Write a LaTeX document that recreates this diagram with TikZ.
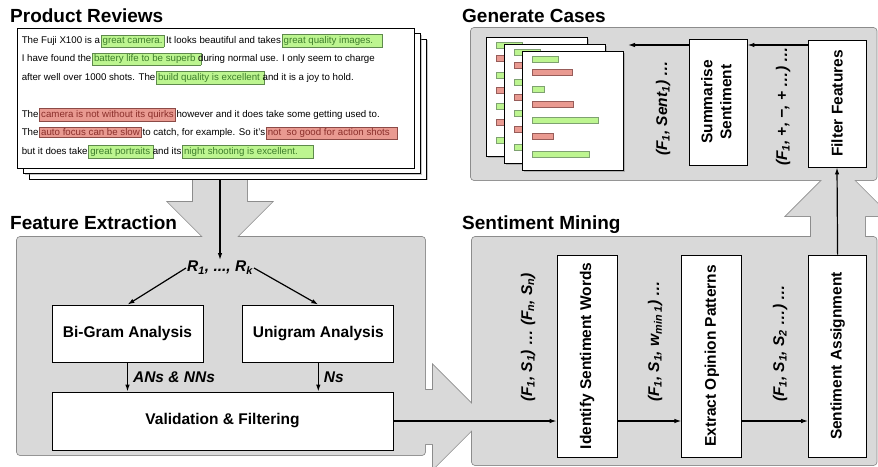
\documentclass[tikz,border=0pt]{standalone}
\usepackage{fontspec}
\setmainfont{Liberation Sans}
\usepackage{xcolor}
\usepackage{tikz}
\usetikzlibrary{positioning}
\usetikzlibrary{calc,arrows.meta,shadows}
\definecolor{panel}{HTML}{D9D9D9}
\definecolor{panelline}{HTML}{8C8C8C}
\definecolor{goodfill}{HTML}{BDF590}
\definecolor{goodline}{HTML}{5E8A4C}
\definecolor{goodtext}{HTML}{3E7E2C}
\definecolor{badfill}{HTML}{E99A91}
\definecolor{badline}{HTML}{8C4A46}
\definecolor{badtext}{HTML}{8A2E2A}
\setlength{\fboxsep}{1.3pt}
\setlength{\fboxrule}{0.6pt}
% highlighted phrase: box behind the words, text does not move
\newcommand{\good}[2][0pt]{\makebox[0pt][l]{\hspace{-1.9pt}\fcolorbox{goodline}{goodfill}{\phantom{#2}\hspace{#1}}}\textcolor{goodtext}{#2}}
\newcommand{\bad}[2][0pt]{\makebox[0pt][l]{\hspace{-1.9pt}\fcolorbox{badline}{badfill}{\phantom{#2}\hspace{#1}}}\textcolor{badtext}{#2}}
\tikzset{
  stagetitle/.style = {font=\fontsize{19}{22}\selectfont\bfseries,
    anchor=base west, inner sep=0pt},
  stage/.style = {draw=black, line width=0.8pt, fill=white, align=center,
    inner sep=0pt, font=\fontsize{15.5}{19}\selectfont\bfseries},% white process box
  flowlabel/.style = {font=\fontsize{15.5}{19}\selectfont\bfseries\itshape,
    inner sep=1pt},% data passed between boxes
  flow/.style = {->, line width=1.2pt},
  sheet/.style = {draw=black, line width=0.8pt, fill=white, inner sep=0pt,
    drop shadow={shadow xshift=1.2pt, shadow yshift=-1.2pt, opacity=0.45}},
  casesheet/.style = {sheet, line width=0.6pt, minimum width=101,
    minimum height=119, anchor=north west},
  goodbar/.style = {fill=goodfill, draw=goodline!80, line width=0.6pt},
  badbar/.style = {fill=badfill, draw=badline!90, line width=0.6pt},
  panelback/.style = {draw=panelline, line width=1.6pt, rounded corners=3pt},
  panelfill/.style = {fill=panel, rounded corners=3pt}
}

\begin{document}
\begin{tikzpicture}[x=1pt, y=-1pt, >={Latex[length=7pt,width=4.5pt]}]
\useasboundingbox (0,0) rectangle (878,466);

% grey stage panels with their wide arrows (outline first, then fill)
\foreach \sty in {panelback, panelfill} {
  \path[\sty] (17,237) rectangle (425,455);
  \path[\sty] (472,237) rectangle (876.5,465);
  \path[\sty] (471,28) rectangle (876.5,180);
  \path[\sty, sharp corners] (193,176) -- (247,176) -- (247,202) -- (272,202)
    -- (233,241) -- (207,241) -- (168,202) -- (193,202) -- cycle;
  \path[\sty, sharp corners] (420,390) -- (433,390) -- (433,365) -- (476,408)
    -- (476,426) -- (433,469) -- (433,444) -- (420,444) -- cycle;
  \path[\sty, sharp corners] (811,242) -- (811,216) -- (786,216) -- (827,175)
    -- (849,175) -- (890,216) -- (865,216) -- (865,242) -- cycle;
}

\node[stagetitle] (reviewstitle) at (10,22) {Product Reviews};
\node[stagetitle] (extracttitle) at (10,229) {Feature Extraction};
\node[stagetitle] (miningtitle) at (462,229) {Sentiment Mining};
\node[stagetitle] (casestitle) at (462,22) {Generate Cases};

% stack of reviews
\node[sheet, minimum width=397, minimum height=140] (sheetC) at (228,109) {};
\node[sheet, minimum width=397, minimum height=140] (sheetB) at (222,103.5) {};
\node[sheet, minimum width=397, minimum height=140] (sheetA) at (215.5,98) {};
\node[anchor=north west, align=left, inner sep=0pt,
  font=\fontsize{9.7}{18.5}\selectfont] (reviewtext)
  at ([shift={(5,6.5)}]sheetA.north west) {%
The Fuji X100 is a \good{great camera.} It looks beautiful and takes \good[8pt]{great quality images.}\\
I have found the \good[4pt]{battery life to be superb} during normal use. I only seem to charge\\
after well over 1000 shots. The \good[3pt]{build quality is excellent} and it is a joy to hold.\\[18.5pt]
The \bad{camera is not without its quirks} however and it does take some getting used to.\\
The \bad{auto focus can be slow} to catch, for example. So it's \bad[6pt]{not\ \ so good for action shots}\\
but it does take \good[2pt]{great portraits} and its \good[14pt]{night shooting is excellent.}};

% feature extraction
\node[flowlabel] (rk) at (220,268) {R\textsubscript{1}, ..., R\textsubscript{k}};
\node[stage, minimum width=151, minimum height=57] (bigram) at (127.5,333.5) {Bi-Gram Analysis};
\node[stage, minimum width=151, minimum height=57, right=39 of bigram] (unigram) {Unigram Analysis};
\node[stage, minimum width=341, minimum height=58] (valid) at (222.5,421) {Validation \& Filtering};

\draw[flow] (rk |- sheetC.south) -- (rk.north);
\draw[flow] (rk.west) -- (bigram.north);
\draw[flow] (rk.east) -- (unigram.north);
\draw[flow] (bigram.south) -- (bigram.south |- valid.north)
  node[flowlabel, midway, right=4pt] (anslabel) {ANs \& NNs};
\draw[flow] (unigram.south) -- (unigram.south |- valid.north)
  node[flowlabel, midway, right=4pt] (nslabel) {Ns};

% sentiment mining
\node[stage, minimum width=60, minimum height=202] (ident) at (587,356)
  {\rotatebox{90}{Identify Sentiment Words}};
\node[stage, minimum width=60, minimum height=202, right=64 of ident] (extract)
  {\rotatebox{90}{Extract Opinion Patterns}};
\node[stage, minimum width=58, minimum height=202, right=66 of extract] (sentassign)
  {\rotatebox{90}{Sentiment Assignment}};

\node[flowlabel, anchor=south] (pairs) at (528,403)
  {\rotatebox{90}{(F\textsubscript{1}, S\textsubscript{1}) … (F\textsubscript{n}, S\textsubscript{n})}};
\node[flowlabel, anchor=south] (triples) at (655,403)
  {\rotatebox{90}{(F\textsubscript{1}, S\textsubscript{1}, w\textsubscript{min 1}) …}};
\node[flowlabel, anchor=south] (scores) at (780,403)
  {\rotatebox{90}{(F\textsubscript{1}, S\textsubscript{1}, S\textsubscript{2} …) …}};

\draw[flow] (valid.east) -- (valid.east -| ident.west);
\draw[flow] (ident.east |- valid.east) -- (extract.west |- valid.east);
\draw[flow] (extract.east |- valid.east) -- (sentassign.west |- valid.east);

% generate cases
\foreach \cx/\cy/\nm in {486/37/caseA, 504/44/caseB, 522/51/caseC} {
  \node[casesheet] (\nm) at (\cx,\cy) {};
  \foreach \dy/\len/\col in {5/26/goodbar, 18/40/badbar, 35/12/goodbar,
      50/41/badbar, 66/66/goodbar, 82/21/badbar, 100/57/goodbar}
    \path[\col] ([shift={(10,\dy)}]\nm.north west) rectangle ++(\len,6.5);
}

\node[stage, minimum width=58, minimum height=127] (filter) at (837,103.5)
  {\rotatebox{90}{Filter Features}};
\node[stage, minimum width=58, minimum height=126] (sumsent) at (718,102)
  {\rotatebox{90}{\begin{tabular}{@{}c@{}}Summarise\\Sentiment\end{tabular}}};

\node[flowlabel, anchor=south] (sentlabel) at (663,157)
  {\rotatebox{90}{(F\textsubscript{1}, Sent\textsubscript{1}) …}};
\node[flowlabel, anchor=south] (signlabel) at (783,167)
  {\rotatebox{90}{(F\textsubscript{1}, +, −, + …) …}};

\coordinate (caseslot) at (628,45);
\draw[flow] (sentassign.north) -- (filter.south);
\draw[flow] (filter.west |- caseslot) -- (sumsent.east |- caseslot);
\draw[flow] (sumsent.west |- caseslot) -- (caseslot);
\end{tikzpicture}
\end{document}
